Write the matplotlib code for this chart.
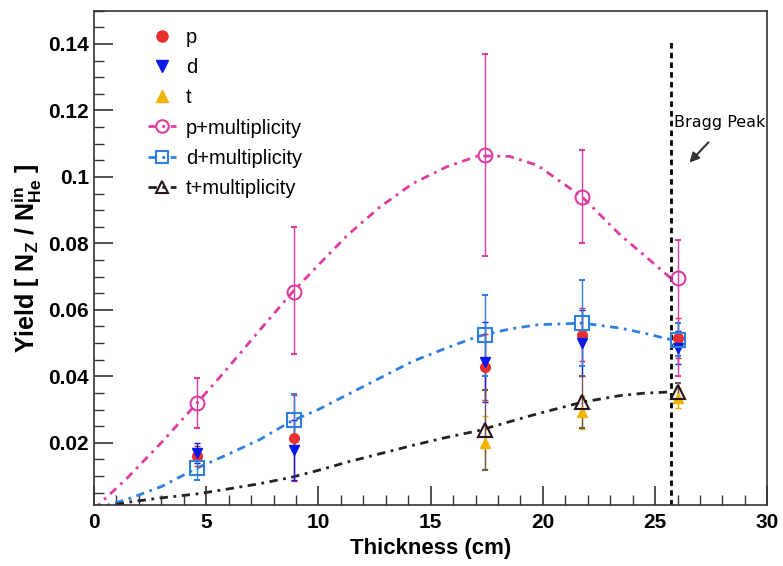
import matplotlib
matplotlib.use('Agg')
import matplotlib.pyplot as plt
from matplotlib.ticker import MultipleLocator

plt.rcParams['font.family'] = ['Liberation Sans', 'DejaVu Sans']
plt.rcParams['mathtext.fontset'] = 'custom'
plt.rcParams['mathtext.rm'] = 'Liberation Sans:bold'
plt.rcParams['mathtext.bf'] = 'Liberation Sans:bold'
plt.rcParams['mathtext.it'] = 'Liberation Sans:bold'

# thickness of the target points (cm)
thick = [4.6, 8.9, 17.4, 21.75, 26.0]
thick_t = [17.4, 21.75, 26.0]

# yields without multiplicity
p_y = [0.016, 0.0215, 0.0428, 0.0525, 0.0515]
p_err = [0.003, 0.013, 0.010, 0.008, 0.006]
d_y = [0.0169, 0.0178, 0.0443, 0.050, 0.0486]
d_err = [0.003, 0.009, 0.012, 0.010, 0.005]
t_y = [0.020, 0.0292, 0.0335]
t_err = [0.008, 0.005, 0.003]

# yields with multiplicity
pm_y = [0.032, 0.0655, 0.1067, 0.094, 0.0696]
pm_lo = [0.0244, 0.0467, 0.0763, 0.080, 0.040]
pm_hi = [0.0395, 0.085, 0.137, 0.108, 0.081]
dm_y = [0.0124, 0.0268, 0.0525, 0.056, 0.0510]
dm_lo = [0.0087, 0.019, 0.040, 0.043, 0.046]
dm_hi = [0.016, 0.0347, 0.0645, 0.069, 0.056]
tm_y = [0.0238, 0.0323, 0.0353]
tm_lo = [0.0118, 0.0244, 0.0325]
tm_hi = [0.036, 0.040, 0.038]

# fitted curves
fit_x = [0.0, 1.5, 3.0, 4.6, 5.9, 7.4, 8.8, 10.0, 11.3, 12.75, 14.2, 15.7,
         17.1, 18.5, 19.75, 21.75, 23.45, 24.5, 25.7]
pm_fit = [0.0, 0.0095, 0.020, 0.032, 0.042, 0.054, 0.065, 0.0735, 0.0825,
          0.091, 0.098, 0.103, 0.1063, 0.1062, 0.1035, 0.094, 0.0825, 0.0765,
          0.0695]
dm_fit = [0.0, 0.003, 0.0068, 0.0124, 0.0163, 0.021, 0.0265, 0.030, 0.0345,
          0.0395, 0.0445, 0.0485, 0.052, 0.0542, 0.0555, 0.056, 0.0545, 0.053,
          0.051]
tm_fit = [0.0, 0.0021, 0.0034, 0.0046, 0.0060, 0.0077, 0.0096, 0.0117, 0.0142,
          0.0167, 0.0192, 0.0216, 0.0236, 0.0263, 0.0287, 0.0322, 0.0342,
          0.0349, 0.0353]

bragg_x = 25.7

c_p = '#e8302f'
c_d = '#0a1ae6'
c_t = '#f2b400'
c_pm = '#e03ca0'
c_dm = '#2f7fe0'
c_tm = '#2a1420'

fig = plt.figure(figsize=(7.83, 5.66), dpi=100)
ax = fig.add_axes([0.120, 0.108, 0.860, 0.873])

dd = (3, 2, 1, 2)
ax.plot(fit_x, pm_fit, color=c_pm, lw=2, dashes=dd)
ax.plot(fit_x, dm_fit, color=c_dm, lw=2, dashes=dd)
ax.plot(fit_x, tm_fit, color='#222222', lw=2, dashes=dd)

ekw = dict(elinewidth=1, capsize=2.5, capthick=1)
ax.errorbar(thick, p_y, yerr=p_err, fmt='o', color=c_p, ms=7, **ekw)
ax.errorbar(thick, d_y, yerr=d_err, fmt='v', color=c_d, ms=7, **ekw)
ax.errorbar(thick_t, t_y, yerr=t_err, fmt='^', color=c_t, ms=7, **ekw)


def asym(y, lo, hi):
    return [[a - b for a, b in zip(y, lo)], [b - a for a, b in zip(y, hi)]]


ax.errorbar(thick, pm_y, yerr=asym(pm_y, pm_lo, pm_hi), fmt='o', mfc='none',
            mec=c_pm, color=c_pm, ms=10, mew=1.5, **ekw)
ax.errorbar(thick, dm_y, yerr=asym(dm_y, dm_lo, dm_hi), fmt='s', mfc='none',
            mec=c_dm, color=c_dm, ms=10, mew=1.5, **ekw)
ax.errorbar(thick_t, tm_y, yerr=asym(tm_y, tm_lo, tm_hi), fmt='^', mfc='none',
            mec=c_tm, color='#6a5a5a', ms=10, mew=1.5, **ekw)

# legend handles
hp, = ax.plot([], [], 'o', color=c_p, ms=8)
hd, = ax.plot([], [], 'v', color=c_d, ms=8)
ht, = ax.plot([], [], '^', color=c_t, ms=8)
hpm, = ax.plot([], [], 'o', mfc='none', mec=c_pm, color=c_pm, ms=9, mew=1.5, lw=2, ls=(0, dd))
hdm, = ax.plot([], [], 's', mfc='none', mec=c_dm, color=c_dm, ms=9, mew=1.5, lw=2, ls=(0, dd))
htm, = ax.plot([], [], '^', mfc='none', mec=c_tm, color='#222222', ms=9, mew=1.5, lw=2, ls=(0, dd))
ax.legend([hp, hd, ht, hpm, hdm, htm],
          ['p', 'd', 't', 'p+multiplicity', 'd+multiplicity', 't+multiplicity'],
          loc='upper left', bbox_to_anchor=(0.068, 0.982), frameon=False,
          fontsize=14.5, handlelength=1.4, handletextpad=0.5, labelspacing=0.56,
          borderaxespad=0)

# Bragg peak line and label
ax.plot([bragg_x, bragg_x], [0.0013, 0.1405], color='black', lw=2, ls=(0, (2, 1.5)))
ax.text(25.85, 0.1164, 'Bragg Peak', fontsize=11.5, family=['DejaVu Sans'],
        ha='left', va='center')
ax.annotate('', xy=(26.44, 0.1037), xytext=(27.46, 0.111),
            arrowprops=dict(arrowstyle='-|>', color='#333333', lw=1.5,
                            mutation_scale=14))

ax.set_xlim(0, 30)
ax.set_ylim(0.0013, 0.150)
ax.xaxis.set_major_locator(MultipleLocator(5))
ax.xaxis.set_minor_locator(MultipleLocator(1))
ax.yaxis.set_minor_locator(MultipleLocator(0.005))
ax.set_yticks([0.02, 0.04, 0.06, 0.08, 0.1, 0.12, 0.14])
ax.set_yticklabels(['0.02', '0.04', '0.06', '0.08', '0.1', '0.12', '0.14'])
ax.tick_params(which='both', direction='in', top=False, right=False,
               labelsize=15, color='#333333')
ax.tick_params(which='major', length=14, width=1.2)
ax.tick_params(which='minor', length=7, width=1)
for lab in ax.get_xticklabels() + ax.get_yticklabels():
    lab.set_fontweight('bold')
ax.tick_params(axis='x', pad=6)
for s in ax.spines.values():
    s.set_linewidth(1.2)
    s.set_color('#333333')

ax.set_xlabel('Thickness (cm)', fontsize=16, fontweight='bold', labelpad=4)
ax.set_ylabel(r'Yield [ N$_{\mathbf{Z}}$ / N$_{\mathbf{He}}^{\mathbf{in}}$ ]',
              fontsize=18, fontweight='bold', labelpad=3)

fig.savefig('out.png', dpi=100)
